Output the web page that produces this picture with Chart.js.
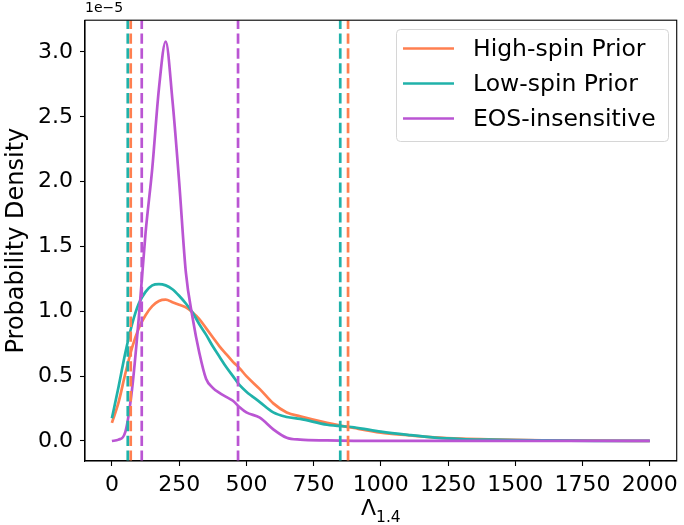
<!DOCTYPE html>
<html>
<head>
<meta charset="utf-8">
<script src="https://cdn.jsdelivr.net/npm/chart.js@4.4.1/dist/chart.umd.min.js"></script>
<style>
  html, body { margin: 0; padding: 0; background: #fff; }
  #wrap { width: 684px; height: 525px; }
</style>
</head>
<body>
<div id="wrap"><canvas id="kdeChart" width="684" height="525"></canvas></div>
<script>
// Lambda_1.4 grid, densities read in units of 1e-5
const lambdaGrid = [0, 25, 50, 75, 100, 125, 150, 175, 200, 225, 250, 275, 300, 325, 350, 375, 400, 425, 450, 475, 500,
  550, 600, 650, 700, 800, 900, 1000, 1100, 1200, 1300, 1400, 1500, 1600, 1800, 2000];
const highSpin = [0.14, 0.30, 0.52, 0.72, 0.87, 0.97, 1.04, 1.08, 1.09, 1.07, 1.05, 1.03, 0.99, 0.94, 0.87, 0.80, 0.73, 0.67, 0.61, 0.56, 0.50,
  0.40, 0.29, 0.22, 0.19, 0.14, 0.10, 0.065, 0.045, 0.028, 0.018, 0.012, 0.008, 0.005, 0.002, 0.0];
const lowSpin = [0.175, 0.42, 0.68, 0.90, 1.06, 1.15, 1.20, 1.21, 1.20, 1.17, 1.12, 1.06, 0.99, 0.90, 0.82, 0.73, 0.65, 0.57, 0.50, 0.43, 0.38,
  0.30, 0.22, 0.185, 0.17, 0.125, 0.105, 0.072, 0.047, 0.026, 0.015, 0.01, 0.006, 0.004, 0.001, 0.0];
const eosInsensitive = [0.0, 0.01, 0.07, 0.40, 0.95, 1.6, 2.1, 2.72, 3.08, 2.63, 2.0, 1.3, 0.95, 0.68, 0.48, 0.41, 0.37, 0.34, 0.31, 0.26, 0.22,
  0.18, 0.09, 0.025, 0.01, 0.004, 0.001, 0, 0, 0, 0, 0, 0, 0, 0, 0];

// credible interval bounds (dashed lines)
const highSpinBounds = [70, 878];
const lowSpinBounds = [59, 849];
const eosBounds = [111, 469];

const seriesNames = ['High-spin Prior', 'Low-spin Prior', 'EOS-insensitive'];
const seriesColors = ['#ff7f50', '#20b2aa', '#ba55d3'];

const xTicks = [0, 250, 500, 750, 1000, 1250, 1500, 1750, 2000];
const yTicks = [0, 0.5, 1.0, 1.5, 2.0, 2.5, 3.0];
const xRange = [-100, 2100];
const yRange = [-0.1545, 3.245];

const FONT = 'DejaVu Sans';
const LW = 2.7;

function curve(vals) {
  return lambdaGrid.map((x, i) => ({ x: x, y: vals[i] }));
}
function vline(v) {
  return [{ x: v, y: yRange[0] }, { x: v, y: yRange[1] }];
}

const datasets = [];
[highSpin, lowSpin, eosInsensitive].forEach((vals, i) => {
  datasets.push({
    label: seriesNames[i],
    data: curve(vals),
    borderColor: seriesColors[i],
    borderWidth: LW,
    pointRadius: 0,
    fill: false,
    cubicInterpolationMode: 'monotone',
    order: 9 - i
  });
});
[highSpinBounds, lowSpinBounds, eosBounds].forEach((b, i) => {
  b.forEach(v => {
    datasets.push({
      label: '',
      data: vline(v),
      borderColor: seriesColors[i],
      borderWidth: LW,
      borderDash: [10.4, 4.5],
      pointRadius: 0,
      fill: false,
      order: 3 - i
    });
  });
});

const bgPlugin = {
  id: 'bg',
  beforeDraw(chart) {
    const ctx = chart.ctx;
    ctx.save();
    ctx.fillStyle = '#fff';
    ctx.fillRect(0, 0, chart.width, chart.height);
    ctx.restore();
  }
};

// top/right spines
const framePlugin = {
  id: 'frame',
  afterDatasetsDraw(chart) {
    const a = chart.chartArea, ctx = chart.ctx;
    ctx.save();
    ctx.strokeStyle = '#000';
    ctx.lineWidth = 1.1;
    ctx.strokeRect(a.left, a.top, a.right - a.left, a.bottom - a.top);
    ctx.restore();
  }
};

const legendPlugin = {
  id: 'boxLegend',
  afterDraw(chart) {
    const ctx = chart.ctx;
    const x0 = 396.5, y0 = 29.5, w = 272, h = 112, r = 4;
    ctx.save();
    ctx.beginPath();
    ctx.roundRect(x0, y0, w, h, r);
    ctx.fillStyle = 'rgba(255,255,255,0.8)';
    ctx.fill();
    ctx.strokeStyle = '#d6d6d6';
    ctx.lineWidth = 1;
    ctx.stroke();
    ctx.font = '23.5px "' + FONT + '"';
    ctx.textBaseline = 'middle';
    ctx.fillStyle = '#000';
    for (let i = 0; i < 3; i++) {
      const ds = chart.data.datasets[i];
      const y = 48.5 + i * 35;
      ctx.beginPath();
      ctx.moveTo(403, y);
      ctx.lineTo(454, y);
      ctx.strokeStyle = ds.borderColor;
      ctx.lineWidth = LW;
      ctx.stroke();
      ctx.fillText(ds.label, 473, y + 1);
    }
    ctx.restore();
  }
};

const textPlugin = {
  id: 'texts',
  afterDraw(chart) {
    const ctx = chart.ctx, a = chart.chartArea;
    ctx.save();
    ctx.fillStyle = '#000';
    // y title
    ctx.translate(17, (a.top + a.bottom) / 2);
    ctx.rotate(-Math.PI / 2);
    ctx.font = '24px "' + FONT + '"';
    ctx.textAlign = 'center';
    ctx.textBaseline = 'middle';
    ctx.fillText('Probability Density', 0, 0);
    ctx.restore();

    // x title: Lambda_{1.4}
    ctx.save();
    ctx.fillStyle = '#000';
    ctx.textBaseline = 'alphabetic';
    ctx.font = '22px "' + FONT + '"';
    const wMain = ctx.measureText('Λ').width;
    ctx.font = '15.5px "' + FONT + '"';
    const wSub = ctx.measureText('1.4').width;
    const cx = (a.left + a.right) / 2;
    const start = cx - (wMain + wSub) / 2;
    ctx.font = '22px "' + FONT + '"';
    ctx.fillText('Λ', start, 515);
    ctx.font = '15.5px "' + FONT + '"';
    ctx.fillText('1.4', start + wMain, 522);

    // offset text
    ctx.font = '14px "' + FONT + '"';
    ctx.fillText('1e\u22125', a.left, 12);
    ctx.restore();
  }
};

new Chart(document.getElementById('kdeChart'), {
  type: 'line',
  data: { datasets: datasets },
  options: {
    responsive: false,
    animation: false,
    layout: { padding: { top: 17, right: 4, left: 0, bottom: 0 } },
    plugins: { legend: { display: false }, tooltip: { enabled: false } },
    scales: {
      x: {
        type: 'linear',
        min: xRange[0],
        max: xRange[1],
        afterBuildTicks: s => { s.ticks = xTicks.map(v => ({ value: v })); },
        afterFit: s => { s.height = 64; },
        ticks: {
          autoSkip: false, maxRotation: 0, padding: 6, color: '#000',
          font: { family: FONT, size: 22 },
          callback: v => String(v)
        },
        grid: { drawOnChartArea: false, drawTicks: true, tickLength: 5, tickColor: '#000', tickWidth: 1.1 },
        border: { display: true, color: '#000', width: 1.1 }
      },
      y: {
        type: 'linear',
        min: yRange[0],
        max: yRange[1],
        afterBuildTicks: s => { s.ticks = yTicks.map(v => ({ value: v })); },
        afterFit: s => { s.width = 85; },
        ticks: {
          autoSkip: false, padding: 7, color: '#000',
          font: { family: FONT, size: 22 },
          callback: v => v.toFixed(1)
        },
        grid: { drawOnChartArea: false, drawTicks: true, tickLength: 5, tickColor: '#000', tickWidth: 1.1 },
        border: { display: true, color: '#000', width: 1.1 }
      }
    }
  },
  plugins: [bgPlugin, framePlugin, legendPlugin, textPlugin]
});
</script>
</body>
</html>
